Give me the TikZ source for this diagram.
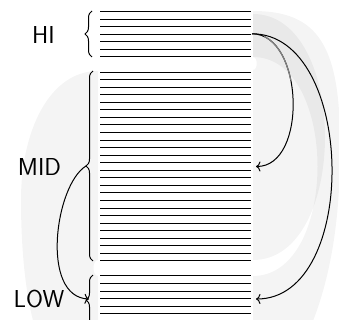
\documentclass[tikz,border=0pt]{standalone}
\usepackage{fontspec}
\usetikzlibrary{decorations.pathreplacing,arrows.meta}
\begin{document}
\begin{tikzpicture}[x=1pt,y=-1pt,
  ribbon/.style={fill=black,fill opacity=0.045,draw=none},
  hline/.style={line width=1pt},
  bracestyle/.style={decorate,decoration={brace,amplitude=7pt},line width=1pt},
  conn/.style={-{To[length=4.5pt,width=10pt]},line width=1pt},
  lbl/.style={font=\fontsize{24.5}{29}\selectfont\sffamily,inner sep=0pt}]
\useasboundingbox (0,0) rectangle (339,320);
\clip (0,0) rectangle (339,320);
% ribbons
\path[ribbon] (98,71) .. controls (50,71) and (21,130) .. (21,200) .. controls (21,270) and (30,320) .. (40,340) -- (98,340) -- (98,276) .. controls (92,276) and (92,260) .. (98,260) -- cycle;
\path[ribbon] (253,11) .. controls (318,11) and (341,45) .. (340,150) .. controls (340,230) and (328,290) .. (305,340) -- (253,340) -- (253,276) .. controls (339,276) and (339,57) .. (253,57) -- cycle;
\path[ribbon] (253,14) .. controls (349,14) and (349,260) .. (253,260) -- (253,70) .. controls (258,70) and (258,57) .. (253,57) -- cycle;
% lines
\foreach \i in {0,1,...,6,8,9,...,33,35,36,...,40}
  \draw[hline] (100,11.7+7.55*\i) -- (251,11.7+7.55*\i);
% braces
\draw[bracestyle] (92,57) -- (92,11);
\draw[bracestyle] (93,261) -- (93,71);
\draw[bracestyle] (93,325) -- (93,275);
% labels
\node[lbl] (hilbl) at (43.5,35) {HI};
\node[lbl] (midlbl) at (39.5,167) {MID};
\node[lbl] (lowlbl) at (39,299) {LOW};
% anchor points
\coordinate (hi) at (252,33.8);
\coordinate (midR) at (256,166.5);
\coordinate (lowR) at (256,299);
\coordinate (midL) at (86,166);
\coordinate (lowL) at (89,299);
% connectors
\draw[conn] (hi) to[out=0,in=0] (midR);
\begin{scope}
  \clip (264,0) rectangle (339,80);
  \draw[line width=1.2pt,gray] (hi) to[out=0,in=0] (midR);
\end{scope}
\draw[conn] (hi) to[out=0,in=0] (lowR);
\draw[conn] (midL) .. controls (55,185) and (40,297) .. (lowL);
\end{tikzpicture}
\end{document}
